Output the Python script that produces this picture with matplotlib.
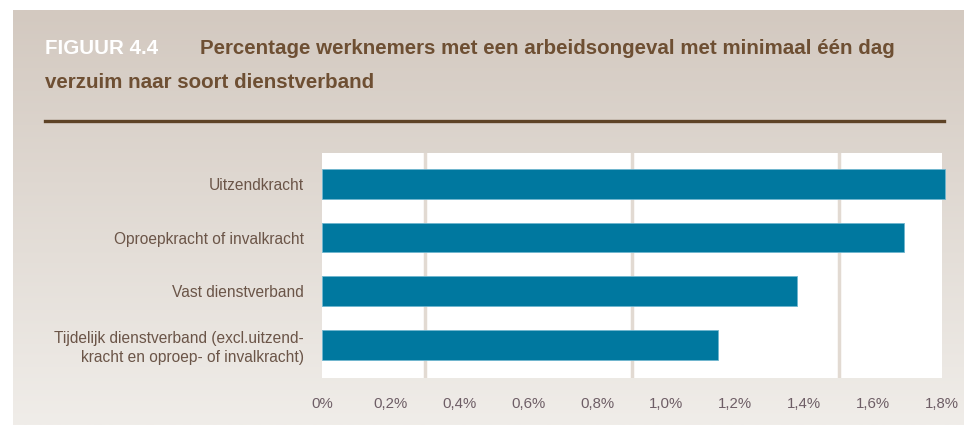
import numpy as np
import matplotlib.pyplot as plt
from matplotlib.ticker import FixedLocator

# data
categories = ["Uitzendkracht",
              "Oproepkracht of invalkracht",
              "Vast dienstverband",
              "Tijdelijk dienstverband (excl.uitzend-\nkracht en oproep- of invalkracht)"]
values = [1.81, 1.69, 1.38, 1.15]
xticks = [0, 0.2, 0.4, 0.6, 0.8, 1.0, 1.2, 1.4, 1.6, 1.8]
xticklabels = ["0%", "0,2%", "0,4%", "0,6%", "0,8%", "1,0%", "1,2%", "1,4%", "1,6%", "1,8%"]
gridlines = [0.3, 0.6, 0.9, 1.2, 1.5]

W, H = 964, 425
fig = plt.figure(figsize=(W / 100, H / 100), dpi=100)
fig.patch.set_facecolor("white")

# beige panel with a soft vertical gradient
bg = fig.add_axes([13 / W, 0, 1 - 13 / W, 1 - 10 / H])
top = np.array([211, 201, 192]) / 255
bot = np.array([240, 237, 233]) / 255
t = np.linspace(0, 1, 256)[:, None]
grad = top[None, :] * (1 - t) + bot[None, :] * t
bg.imshow(grad[:, None, :], aspect="auto", extent=[0, 1, 0, 1])
bg.axis("off")

# title (font size fitted to the reference line width)
brown = "#6e4f33"
t1 = fig.text(200 / W, 1 - 54 / H, "Percentage werknemers met een arbeidsongeval met minimaal één dag",
              color=brown, fontsize=14, fontweight="bold", family="Liberation Sans", va="baseline")
r = fig.canvas.get_renderer()
fs = 14 * 698 / t1.get_window_extent(r).width
t1.set_fontsize(fs)
fig.text(45 / W, 1 - 54 / H, "FIGUUR 4.4", color="white", fontsize=fs, fontweight="bold",
         family="Liberation Sans", va="baseline")
fig.text(45 / W, 1 - 88 / H, "verzuim naar soort dienstverband",
         color=brown, fontsize=fs, fontweight="bold", family="Liberation Sans", va="baseline")
fig.add_artist(plt.Line2D([45 / W, 944 / W], [1 - 121 / H, 1 - 121 / H],
                          color="#5e4326", lw=2.4, transform=fig.transFigure))

# chart
ax = fig.add_axes([322 / W, 1 - 378 / H, (942 - 322) / W, (378 - 153) / H])
ax.set_facecolor("white")
ypos = np.arange(len(categories))
ax.barh(ypos, values, height=0.55, color="#00789f", edgecolor="#6fb6cf",
        linewidth=0.6, clip_on=False, zorder=3)
ax.set_xlim(0, 1.8)
ax.set_ylim(3.62, -0.58)
ax.set_yticks(ypos)
ax.set_yticklabels(categories, family="Liberation Sans", fontsize=11.2,
                   color="#6b5548", linespacing=1.3)
ax.set_xticks(xticks)
ax.set_xticklabels(xticklabels, family="Liberation Sans", fontsize=10.8, color="#6e5e66")
ax.xaxis.set_minor_locator(FixedLocator(gridlines))
ax.grid(axis="x", which="minor", color="#e2dad2", lw=2.5, zorder=0)
ax.tick_params(axis="both", which="both", length=0)
ax.tick_params(axis="x", pad=14)
ax.tick_params(axis="y", pad=13)
for s in ax.spines.values():
    s.set_visible(False)

fig.savefig("out.png", dpi=100)
